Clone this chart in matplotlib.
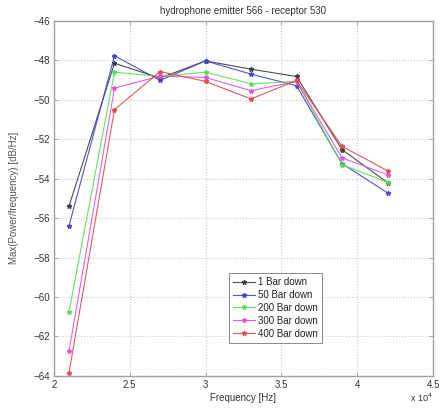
import matplotlib
matplotlib.use("Agg")
import matplotlib.pyplot as plt
from matplotlib.ticker import ScalarFormatter

freq = [21000, 24000, 27000, 30000, 33000, 36000, 39000, 42000]
labels = ["1 Bar down", "50 Bar down", "200 Bar down", "300 Bar down", "400 Bar down"]
bar1 = [-55.4, -48.15, -48.9, -48.03, -48.45, -48.82, -52.53, -54.2]
bar50 = [-56.4, -47.77, -49.02, -48.03, -48.7, -49.29, -53.24, -54.72]
bar200 = [-60.75, -48.6, -48.82, -48.6, -49.19, -49.07, -53.29, -54.19]
bar300 = [-62.75, -49.41, -48.8, -48.87, -49.54, -49.07, -52.95, -53.8]
bar400 = [-63.85, -50.5, -48.57, -49.07, -49.96, -49.02, -52.36, -53.6]
series = [bar1, bar50, bar200, bar300, bar400]
colors = ["#3a3a3a", "#4040d0", "#50e050", "#e050e0", "#e04848"]

plt.rcParams['font.family'] = ['Liberation Sans', 'DejaVu Sans']
fig = plt.figure(figsize=(4.41, 4.09), dpi=100)
ax = fig.add_axes([0.122, 0.081, 0.860, 0.868])

for vals, c, lab in zip(series, colors, labels):
    ax.plot(freq, vals, color=c, marker='*', markersize=3.5, linewidth=0.8,
            label=lab, alpha=0.9)

ax.set_xlim(20000, 45000)
ax.set_ylim(-64, -46)
ax.set_xticks([20000, 25000, 30000, 35000, 40000, 45000])
ax.set_yticks(list(range(-64, -45, 2)))
fmt = ScalarFormatter(useMathText=False)
fmt.set_powerlimits((0, 0))
ax.xaxis.set_major_formatter(fmt)
ax.xaxis.get_offset_text().set_visible(False)
ax.set_xticklabels(["2", "2.5", "3", "3.5", "4", "4.5"])
ax.grid(True, linestyle=':', color='#c8c8c8', linewidth=0.8)
for s in ax.spines.values():
    s.set_color('#a0a0a0')
    s.set_linewidth(1.0)
ax.tick_params(direction='in', length=3, width=0.6, colors='#a0a0a0',
               labelcolor='#333333', labelsize=7, top=True, right=True, pad=3)
ax.set_title("hydrophone emitter 566 - receptor 530", fontsize=7, color='#333333', pad=5)
ax.set_xlabel("Frequency [Hz]", fontsize=7, color='#333333', labelpad=2)
ax.set_ylabel("Max(Power/frequency) [dB/Hz]", fontsize=7, color='#555555', labelpad=10)
ax.text(1.0, -0.045, "x 10$^4$", transform=ax.transAxes, fontsize=6.5,
        color='#333333', ha='right', va='top')
leg = ax.legend(loc='lower left', bbox_to_anchor=(0.45, 0.08), fontsize=7,
                frameon=True, fancybox=False, edgecolor='#555555',
                handlelength=2.2, borderpad=0.4, labelspacing=0.3, handletextpad=0.4)
leg.get_frame().set_linewidth(0.6)
for t in leg.get_texts():
    t.set_color('#222222')
fig.savefig("out.png", dpi=100)
